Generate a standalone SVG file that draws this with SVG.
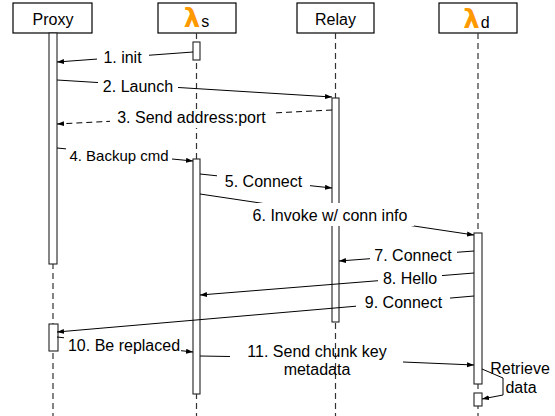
<svg xmlns="http://www.w3.org/2000/svg" width="555" height="416" viewBox="0 0 555 416">
<style>
.hdr{fill:#fff;stroke:#000;stroke-width:1.2}
.ht{font-family:"Liberation Sans",Arial,sans-serif;font-size:16px;fill:#000;text-anchor:middle}
.lam{font-family:"DejaVu Sans",sans-serif;font-weight:bold;font-size:26px;fill:#ff9900}
.life{stroke:#333;stroke-width:1.2;stroke-dasharray:6 4;fill:none}
.act{fill:#fff;stroke:#222;stroke-width:1.1}
.e{stroke:#000;stroke-width:1;fill:none;marker-end:url(#ah)}
.ed{stroke:#000;stroke-width:1;fill:none;stroke-dasharray:6 4;marker-end:url(#ah)}
.lb{fill:#fff;stroke:none}
.t{font-family:"Liberation Sans",Arial,sans-serif;font-size:16px;fill:#000;text-anchor:middle}
</style>
<defs>
<marker id="ah" markerUnits="userSpaceOnUse" markerWidth="8" markerHeight="6" refX="7" refY="2.5" orient="auto">
<path d="M0,0 L7,2.5 L0,5 z" fill="#000"/>
</marker>
</defs>
<rect width="555" height="416" fill="#fff"/>

<g id="proxy">
<rect class="hdr" x="13" y="3" width="79" height="30"/>
<text class="ht" x="53" y="25">Proxy</text>
<line class="life" x1="53" y1="33" x2="53" y2="416"/>
<rect class="act" x="49" y="33" width="8" height="231"/>
<rect class="act" x="49" y="324" width="9" height="27"/>
</g>

<g id="lambda-s">
<rect class="hdr" x="158" y="3" width="78" height="30"/>
<text class="ht" x="196.5" y="27"><tspan class="lam">λ</tspan><tspan dx="1">s</tspan></text>
<line class="life" x1="196.5" y1="33" x2="196.5" y2="416"/>
<rect class="act" x="193" y="42" width="7" height="18"/>
<rect class="act" x="193" y="159" width="7" height="235"/>
</g>

<g id="relay">
<rect class="hdr" x="297" y="3" width="77" height="30"/>
<text class="ht" x="335.5" y="25">Relay</text>
<line class="life" x1="335.5" y1="33" x2="335.5" y2="416"/>
<rect class="act" x="332" y="98" width="7" height="224"/>
</g>

<g id="lambda-d">
<rect class="hdr" x="439" y="3" width="78" height="30"/>
<text class="ht" x="476.5" y="28"><tspan class="lam">λ</tspan><tspan dx="1">d</tspan></text>
<line class="life" x1="478" y1="33" x2="478" y2="416"/>
<rect class="act" x="474" y="233" width="8" height="151"/>
<rect class="act" x="474" y="393" width="8" height="13"/>
</g>

<g id="connectors">
<path class="e" d="M193,52 L57,62"/>
<rect class="lb" x="97" y="50" width="52" height="17"/>
<text class="t" x="122.5" y="63">1. init</text>

<path class="e" d="M57,80 L332,97"/>
<rect class="lb" x="98" y="79" width="80" height="18"/>
<text class="t" x="138" y="92">2. Launch</text>

<path class="ed" d="M332,110 L57,124"/>
<rect class="lb" x="110" y="109" width="163" height="19"/>
<text class="t" x="191.5" y="122.5">3. Send address:port</text>

<path class="e" d="M57,148 L193,161"/>
<rect class="lb" x="66" y="147" width="106" height="18"/>
<text class="t" x="119" y="161" style="font-size:15px">4. Backup cmd</text>

<path class="e" d="M200,174 L332,188"/>
<rect class="lb" x="217" y="173" width="93" height="19"/>
<text class="t" x="263.5" y="187">5. Connect</text>

<path class="e" d="M200,194 L474,235"/>
<rect class="lb" x="246" y="203" width="168" height="23"/>
<text class="t" x="330" y="221">6. Invoke w/ conn info</text>

<path class="e" d="M474,251 L339,261"/>
<rect class="lb" x="370" y="247" width="87" height="18"/>
<text class="t" x="413" y="261">7. Connect</text>

<path class="e" d="M474,273 L200,295"/>
<rect class="lb" x="378" y="270" width="64" height="18"/>
<text class="t" x="410" y="283.5">8. Hello</text>

<path class="e" d="M474,296 L57,332"/>
<rect class="lb" x="356" y="294" width="94" height="18"/>
<text class="t" x="403.5" y="307.5">9. Connect</text>

<path class="e" d="M57,337 L193,352"/>
<rect class="lb" x="64" y="336" width="117" height="19"/>
<text class="t" x="124" y="351">10. Be replaced</text>

<path class="e" d="M200,356 L230,356.5 M403,362 L474,365"/>
<text class="t" x="317" y="357">11. Send chunk key</text>
<text class="t" x="317" y="374.5">metadata</text>

<path class="e" d="M482,369 L503,378 L503,395 L482,399"/>
<text class="t" x="520" y="374">Retrieve</text>
<text class="t" x="521" y="393">data</text>
</g>
</svg>
